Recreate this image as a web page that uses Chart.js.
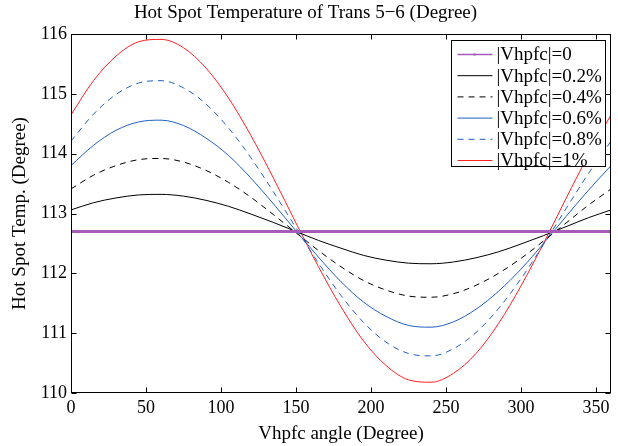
<!DOCTYPE html>
<html>
<head>
<meta charset="utf-8">
<script src="https://cdn.jsdelivr.net/npm/chart.js@4/dist/chart.umd.min.js"></script>
<style>
  html, body { margin: 0; padding: 0; background: #fff; }
</style>
</head>
<body>
<canvas id="hotSpotChart" width="618" height="446"></canvas>
<script>
// angle of Vhpfc (degree)
const angles = [0, 15, 30, 45, 60, 75, 90, 105, 120, 135, 150, 165, 180,
  195, 210, 225, 240, 255, 270, 285, 300, 315, 330, 345, 360];

// hot spot temperature, one array per |Vhpfc|
const vh0 = [112.7, 112.7, 112.7, 112.7, 112.7, 112.7, 112.7, 112.7, 112.7, 112.7, 112.7, 112.7, 112.7,
  112.7, 112.7, 112.7, 112.7, 112.7, 112.7, 112.7, 112.7, 112.7, 112.7, 112.7, 112.7];
const vh02 = [113.06, 113.18, 113.26, 113.31, 113.32, 113.29, 113.22, 113.12, 112.99, 112.85, 112.70, 112.55, 112.42,
  112.30, 112.22, 112.17, 112.16, 112.19, 112.26, 112.36, 112.49, 112.63, 112.78, 112.93, 113.06];
const vh04 = [113.41, 113.64, 113.80, 113.90, 113.92, 113.86, 113.72, 113.52, 113.27, 112.98, 112.68, 112.38, 112.11,
  111.88, 111.72, 111.62, 111.60, 111.66, 111.80, 112.00, 112.25, 112.54, 112.84, 113.14, 113.41];
const vh06 = [113.80, 114.14, 114.39, 114.53, 114.56, 114.47, 114.26, 113.97, 113.59, 113.16, 112.71, 112.27, 111.86,
  111.52, 111.28, 111.13, 111.10, 111.19, 111.40, 111.70, 112.07, 112.50, 112.95, 113.39, 113.80];
const vh08 = [114.21, 114.66, 114.99, 115.18, 115.22, 115.10, 114.83, 114.43, 113.93, 113.36, 112.76, 112.17, 111.63,
  111.18, 110.85, 110.66, 110.62, 110.74, 111.01, 111.41, 111.91, 112.48, 113.08, 113.67, 114.21];
const vh1 = [114.65, 115.22, 115.63, 115.87, 115.91, 115.77, 115.43, 114.93, 114.30, 113.59, 112.84, 112.11, 111.44,
  110.87, 110.46, 110.22, 110.18, 110.33, 110.66, 111.16, 111.79, 112.50, 113.25, 113.98, 114.65];

const seriesLabels = ['|Vhpfc|=0', '|Vhpfc|=0.2%', '|Vhpfc|=0.4%', '|Vhpfc|=0.6%', '|Vhpfc|=0.8%', '|Vhpfc|=1%'];
const xTicks = [0, 50, 100, 150, 200, 250, 300, 350];
const yTicks = [110, 111, 112, 113, 114, 115, 116];

const serif = "'Liberation Serif', 'Times New Roman', serif";
const BLUE = '#1f5fc4';
const RED = '#ff2020';
const PURPLE = '#a65bb8';

function toPoints(ys) {
  return ys.map((v, i) => ({ x: angles[i], y: v }));
}

function line(label, ys, color, dash, width) {
  return {
    label: label,
    data: toPoints(ys),
    borderColor: color,
    backgroundColor: color,
    borderWidth: width || 1,
    borderDash: dash || [],
    pointRadius: 0,
    cubicInterpolationMode: 'monotone',
    fill: false
  };
}

// box around the plot with MATLAB style inward ticks, plus the legend inside
const framePlugin = {
  id: 'frame',
  afterDatasetsDraw(chart) {
    const { ctx, chartArea: a, scales } = chart;
    const L = Math.round(a.left) + 0.5, R = Math.round(a.right) - 0.5;
    const T = Math.round(a.top) + 0.5, B = Math.round(a.bottom) - 0.5;
    ctx.save();
    ctx.strokeStyle = '#000';
    ctx.lineWidth = 1;
    ctx.setLineDash([]);
    ctx.strokeRect(L, T, R - L, B - T);
    ctx.beginPath();
    xTicks.forEach(v => {
      const px = Math.round(scales.x.getPixelForValue(v)) + 0.5;
      ctx.moveTo(px, B); ctx.lineTo(px, B - 5);
      ctx.moveTo(px, T); ctx.lineTo(px, T + 5);
    });
    yTicks.forEach(v => {
      const py = Math.round(scales.y.getPixelForValue(v)) + 0.5;
      ctx.moveTo(L, py); ctx.lineTo(L + 5, py);
      ctx.moveTo(R, py); ctx.lineTo(R - 5, py);
    });
    ctx.stroke();

    // legend
    const bw = 154, bh = 126;
    const bx = Math.round(a.right) - 6 - bw + 0.5;
    const by = Math.round(a.top) + 6 + 0.5;
    ctx.fillStyle = '#fff';
    ctx.fillRect(bx, by, bw, bh);
    ctx.strokeRect(bx, by, bw, bh);
    ctx.font = '19px ' + serif;
    ctx.textBaseline = 'middle';
    chart.data.datasets.forEach((ds, i) => {
      const ry = by + 14 + i * 21.2;
      ctx.strokeStyle = ds.borderColor;
      ctx.lineWidth = ds.borderWidth > 1 ? 1.5 : 1;
      ctx.setLineDash(ds.borderDash);
      ctx.beginPath();
      ctx.moveTo(bx + 6, ry);
      ctx.lineTo(bx + 41, ry);
      ctx.stroke();
      if (i === 0) {
        ctx.fillStyle = ds.borderColor;
        ctx.fillRect(bx + 22, ry - 1, 2, 2);
      }
      ctx.fillStyle = '#000';
      ctx.fillText(ds.label, bx + 45, ry + 1);
    });
    ctx.restore();
  }
};

const ctx = document.getElementById('hotSpotChart').getContext('2d');
const hotSpotChart = new Chart(ctx, {
  type: 'line',
  data: {
    datasets: [
      line(seriesLabels[0], vh0, PURPLE, [], 3),
      line(seriesLabels[1], vh02, '#000'),
      line(seriesLabels[2], vh04, '#000', [6, 5]),
      line(seriesLabels[3], vh06, BLUE),
      line(seriesLabels[4], vh08, BLUE, [6, 5]),
      line(seriesLabels[5], vh1, RED)
    ]
  },
  options: {
    responsive: false,
    animation: false,
    layout: { padding: { left: 0, right: 7, top: 0, bottom: 0 } },
    plugins: {
      legend: { display: false },
      tooltip: { enabled: false },
      title: {
        display: true,
        text: 'Hot Spot Temperature of Trans 5\u22126 (Degree)',
        color: '#000',
        font: { family: serif, size: 19, weight: 'normal' },
        padding: { top: 2, bottom: 9.2 }
      }
    },
    scales: {
      x: {
        type: 'linear',
        min: 0,
        max: 360,
        afterFit: s => { s.height = 53; },
        grid: { display: true, drawOnChartArea: false, drawTicks: false },
        border: { display: false },
        ticks: {
          stepSize: 50,
          includeBounds: false,
          padding: 4,
          color: '#000',
          maxRotation: 0,
          font: { family: serif, size: 18 }
        },
        title: {
          display: true,
          text: 'Vhpfc angle (Degree)',
          color: '#000',
          font: { family: serif, size: 19 },
          padding: { top: 0, bottom: 1 }
        }
      },
      y: {
        min: 110,
        max: 116,
        afterFit: s => { s.width = 71; },
        grid: { display: true, drawOnChartArea: false, drawTicks: false },
        border: { display: false },
        ticks: {
          stepSize: 1,
          padding: 4,
          color: '#000',
          font: { family: serif, size: 18 }
        },
        title: {
          display: true,
          text: 'Hot Spot Temp. (Degree)',
          color: '#000',
          font: { family: serif, size: 19 },
          padding: { top: 9, bottom: 0 }
        }
      }
    }
  },
  plugins: [framePlugin]
});
</script>
</body>
</html>
